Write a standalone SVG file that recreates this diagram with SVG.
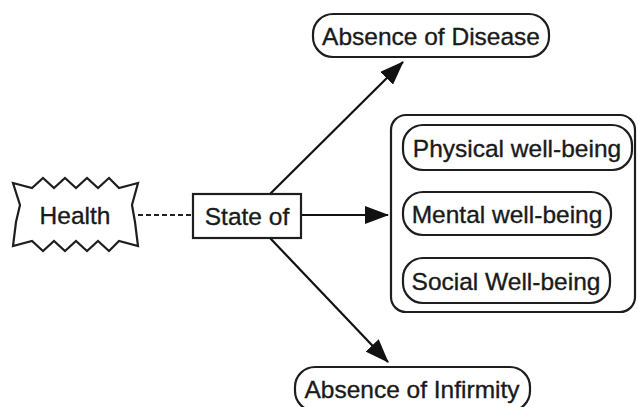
<svg xmlns="http://www.w3.org/2000/svg" width="638" height="407" viewBox="0 0 638 407">
  <defs>
    <marker id="arrow" viewBox="0 0 24 18" refX="23" refY="9" markerWidth="24" markerHeight="18" markerUnits="userSpaceOnUse" orient="auto">
      <path d="M0,0 L24,9 L0,18 Z" fill="#111"/>
    </marker>
  </defs>
  <style>
    .shape { fill: #fff; stroke: #1e1e1e; stroke-width: 2.2; }
    .label { font-family: "Liberation Sans", Arial, Helvetica, sans-serif; font-size: 24.5px; fill: #1a1a1a; stroke: #1a1a1a; stroke-width: 0.35; text-anchor: middle; dominant-baseline: central; }
    .link { stroke: #111; stroke-width: 2.2; fill: none; }
    .dash { stroke: #222; stroke-width: 2; stroke-dasharray: 5 3; fill: none; }
  </style>
  <rect width="638" height="407" fill="#fff"/>

  <!-- connectors -->
  <g id="connectors">
    <line class="dash" x1="138" y1="215" x2="193" y2="215"/>
    <line class="link" x1="270" y1="194" x2="403" y2="62" marker-end="url(#arrow)"/>
    <line class="link" x1="301" y1="215" x2="388" y2="215" marker-end="url(#arrow)"/>
    <line class="link" x1="270" y1="238" x2="388" y2="362" marker-end="url(#arrow)"/>
  </g>

  <!-- jagged "Health" badge -->
  <g id="health">
    <path class="shape" d="M13,183 L32,188 L43,178 L54,188 L65,178 L76,188 L87,178 L98,188 L109,178 L119,188 L138,183
      L132,205 L135,222 L138,246
      L119,241 L109,251 L98,241 L87,251 L76,241 L65,251 L54,241 L43,251 L32,241 L13,246
      L16,222 L20,205 Z"/>
    <text class="label" x="75" y="215">Health</text>
  </g>

  <g id="state-of">
    <rect class="shape" x="193" y="194" width="108" height="44"/>
    <text class="label" x="247" y="216">State of</text>
  </g>

  <g id="absence-of-disease">
    <rect class="shape" x="313" y="14" width="236" height="43" rx="20" ry="20"/>
    <text class="label" x="431" y="36">Absence of Disease</text>
  </g>

  <g id="well-being">
    <rect class="shape" x="391" y="115" width="244" height="197" rx="15" ry="15"/>
  </g>

  <g id="physical">
    <rect class="shape" x="403" y="125" width="229" height="45" rx="20" ry="20"/>
    <text class="label" x="517" y="148">Physical well-being</text>
  </g>

  <g id="mental">
    <rect class="shape" x="403" y="192" width="208" height="43" rx="20" ry="20"/>
    <text class="label" x="507" y="214">Mental well-being</text>
  </g>

  <g id="social">
    <rect class="shape" x="403" y="258" width="207" height="45" rx="20" ry="20"/>
    <text class="label" x="506" y="281">Social Well-being</text>
  </g>

  <g id="absence-of-infirmity">
    <rect class="shape" x="295" y="367" width="235" height="44" rx="20" ry="20"/>
    <text class="label" x="412" y="389">Absence of Infirmity</text>
  </g>
</svg>
